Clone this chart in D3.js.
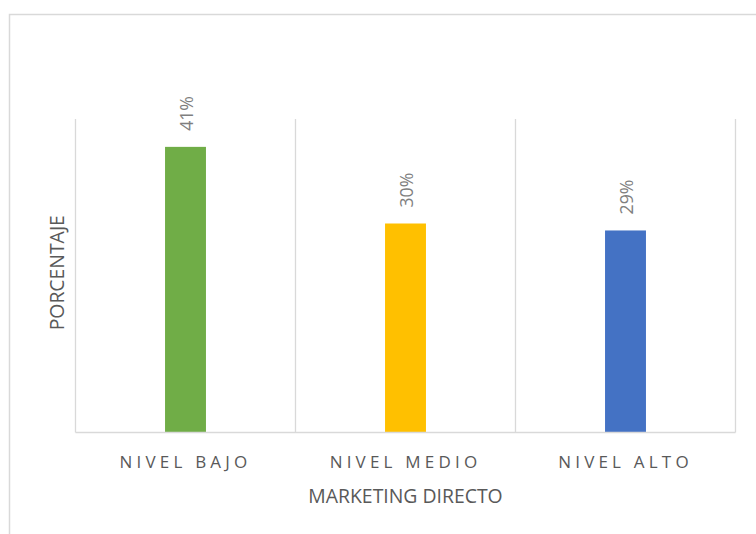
<!DOCTYPE html>
<html>
<head>
<meta charset="utf-8">
<script src="https://cdn.jsdelivr.net/npm/d3@7"></script>
<style>
  html, body { margin: 0; padding: 0; background: #ffffff; }
  svg { display: block; font-family: "Open Sans", sans-serif; }
</style>
</head>
<body>
<svg id="chart" width="756" height="534"></svg>
<script>
// Marketing directo: share of respondents per level
const categories = ["NIVEL BAJO", "NIVEL MEDIO", "NIVEL ALTO"];
const values = [0.41, 0.30, 0.29];
const labels = ["41%", "30%", "29%"];
const colors = ["#70ad47", "#ffc000", "#4472c4"];
const yMax = 0.45;

const svg = d3.select("#chart");
const plot = { left: 75.5, right: 735.5, top: 119, bottom: 432.5 };

// outer chart frame (runs past the window on the right and bottom)
svg.append("rect")
  .attr("x", 9.5).attr("y", 14.5)
  .attr("width", 800).attr("height", 600)
  .attr("fill", "none")
  .attr("stroke", "#d9d9d9")
  .attr("stroke-width", 1.5);

const x = d3.scaleBand()
  .domain(categories)
  .range([plot.left, plot.right])
  .paddingInner(0).paddingOuter(0);

const y = d3.scaleLinear()
  .domain([0, yMax])
  .range([plot.bottom, plot.top]);

// vertical separators between categories
const bounds = categories.map(c => x(c)).concat([x(categories[categories.length - 1]) + x.bandwidth()]);
svg.append("g")
  .selectAll("line")
  .data(bounds)
  .join("line")
  .attr("x1", d => d).attr("x2", d => d)
  .attr("y1", plot.top).attr("y2", plot.bottom)
  .attr("stroke", "#d9d9d9")
  .attr("stroke-width", 1.3);

// bars
const barW = x.bandwidth() * 0.186;
const rows = categories.map((c, i) => ({ c, v: values[i], label: labels[i], color: colors[i] }));

svg.append("g")
  .selectAll("rect")
  .data(rows)
  .join("rect")
  .attr("x", d => x(d.c) + (x.bandwidth() - barW) / 2)
  .attr("y", d => y(d.v))
  .attr("width", barW)
  .attr("height", d => y(0) - y(d.v))
  .attr("fill", d => d.color);

// baseline
svg.append("line")
  .attr("x1", plot.left).attr("x2", plot.right)
  .attr("y1", plot.bottom).attr("y2", plot.bottom)
  .attr("stroke", "#d9d9d9")
  .attr("stroke-width", 1.5);

// value labels, rotated
svg.append("g")
  .selectAll("text")
  .data(rows)
  .join("text")
  .attr("transform", d => `translate(${x(d.c) + x.bandwidth() / 2 + 1},${y(d.v) - 16}) rotate(-90)`)
  .attr("dy", "0.36em")
  .attr("text-anchor", "start")
  .attr("fill", "#7f7f7f")
  .style("font-size", "17.7px")
  .text(d => d.label);

// category axis labels
const xAxis = d3.axisBottom(x).tickSize(0).tickPadding(0);
const gx = svg.append("g")
  .attr("transform", `translate(0,${plot.bottom})`)
  .call(xAxis);
gx.select(".domain").remove();
gx.selectAll("text")
  .attr("y", 35)
  .attr("dy", 0)
  .attr("fill", "#595959")
  .style("font-family", "'Open Sans', sans-serif")
  .style("font-size", "17px")
  .style("letter-spacing", "4.2px");

// axis titles
svg.append("text")
  .attr("x", (plot.left + plot.right) / 2)
  .attr("y", 503)
  .attr("text-anchor", "middle")
  .attr("fill", "#595959")
  .style("font-size", "19.4px")
  .text("MARKETING DIRECTO");

svg.append("text")
  .attr("transform", `translate(64,${(plot.top + plot.bottom) / 2 - 3}) rotate(-90)`)
  .attr("text-anchor", "middle")
  .attr("fill", "#595959")
  .style("font-size", "19.4px")
  .text("PORCENTAJE");
</script>
</body>
</html>
